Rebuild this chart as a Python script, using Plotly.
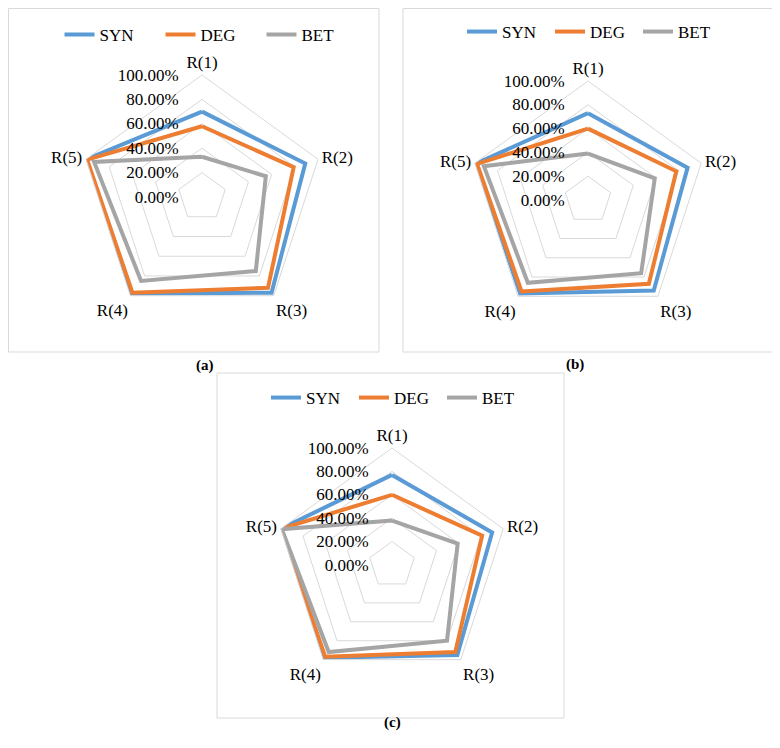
import plotly.graph_objects as go

categories = ["R(1)", "R(2)", "R(3)", "R(4)", "R(5)"]
series_names = ["SYN", "DEG", "BET"]

syn_a = [0.70, 0.89, 0.97, 0.98, 1.00]
deg_a = [0.58, 0.79, 0.92, 0.97, 0.99]
bet_a = [0.33, 0.55, 0.75, 0.85, 0.93]

syn_b = [0.73, 0.88, 0.94, 0.97, 0.99]
deg_b = [0.60, 0.78, 0.87, 0.95, 0.98]
bet_b = [0.39, 0.59, 0.76, 0.86, 0.92]

syn_c = [0.77, 0.90, 0.95, 0.98, 1.00]
deg_c = [0.60, 0.81, 0.92, 0.97, 1.00]
bet_c = [0.38, 0.59, 0.80, 0.92, 0.99]

panel_labels = ["(a)", "(b)", "(c)"]

COLORS = ["#5B9BD5", "#ED7D31", "#A5A5A5"]
GRID = "#D9D9D9"
FONT = "Liberation Serif"

panels = [
    [syn_a, deg_a, bet_a],
    [syn_b, deg_b, bet_b],
    [syn_c, deg_c, bet_c],
]

W, H = 780, 748
OFF = 8  # page body margin shifts the figure by this much


def fx(x):
    return (x - OFF) / W


def fy(y):
    return 1 - (y - OFF) / H


# positions below are in screenshot pixels
centres = [(202, 197, 122), (588, 200, 119), (392, 565, 117)]
boxes = [(8.5, 8.5, 379, 352), (403, 8.5, 773, 352), (217, 373, 564, 718)]
label_pos = [(194, 365), (586, 364), (392, 733)]
legend_pos = [(211, 35, 56), (594, 32, 43), (398, 398, 43)]

fig = go.Figure()

for i, data in enumerate(panels):
    sub = "polar" if i == 0 else f"polar{i + 1}"
    leg = "legend" if i == 0 else f"legend{i + 1}"
    for name, vals, col in zip(series_names, data, COLORS):
        fig.add_trace(go.Scatterpolar(
            r=vals + vals[:1],
            theta=categories + categories[:1],
            mode="lines",
            name=name,
            line=dict(color=col, width=4),
            subplot=sub,
            legend=leg,
        ))

layout = dict(
    width=W, height=H,
    margin=dict(l=0, r=0, t=0, b=0),
    paper_bgcolor="white",
    plot_bgcolor="white",
    font=dict(family=FONT, size=17, color="black"),
)

shapes = []
annotations = []
for i, ((cx, cy, rad), box, lp, lg) in enumerate(zip(centres, boxes, label_pos, legend_pos)):
    sub = "polar" if i == 0 else f"polar{i + 1}"
    leg = "legend" if i == 0 else f"legend{i + 1}"
    layout[sub] = dict(
        domain=dict(x=[fx(cx - rad), fx(cx + rad)], y=[fy(cy + rad), fy(cy - rad)]),
        gridshape="linear",
        bgcolor="white",
        radialaxis=dict(
            range=[0, 1], dtick=0.2, tickformat=".2%",
            angle=90, tickangle=90, side="counterclockwise",
            showline=False, gridcolor=GRID, gridwidth=1,
            ticks="outside", ticklen=17, tickcolor="rgba(0,0,0,0)",
            tickfont=dict(family=FONT, size=17),
        ),
        angularaxis=dict(
            direction="clockwise", rotation=90,
            showgrid=False, linecolor=GRID, linewidth=1,
            ticks="", ticklen=0, tickfont=dict(family=FONT, size=17),
        ),
    )
    layout[leg] = dict(
        orientation="h", x=fx(lg[0]), xanchor="center",
        y=fy(lg[1]), yanchor="middle",
        font=dict(family=FONT, size=17),
        bgcolor="rgba(0,0,0,0)",
        entrywidth=lg[2], entrywidthmode="pixels",
    )
    shapes.append(dict(
        type="rect", xref="paper", yref="paper",
        x0=fx(box[0]), x1=fx(box[2]), y0=fy(box[3]), y1=fy(box[1]),
        line=dict(color=GRID, width=1),
    ))
    annotations.append(dict(
        text="<b>%s</b>" % panel_labels[i], xref="paper", yref="paper",
        x=fx(lp[0]), y=fy(lp[1]), showarrow=False,
        font=dict(family=FONT, size=15),
    ))

layout["shapes"] = shapes
layout["annotations"] = annotations
fig.update_layout(**layout)

fig.write_html("out.html")
